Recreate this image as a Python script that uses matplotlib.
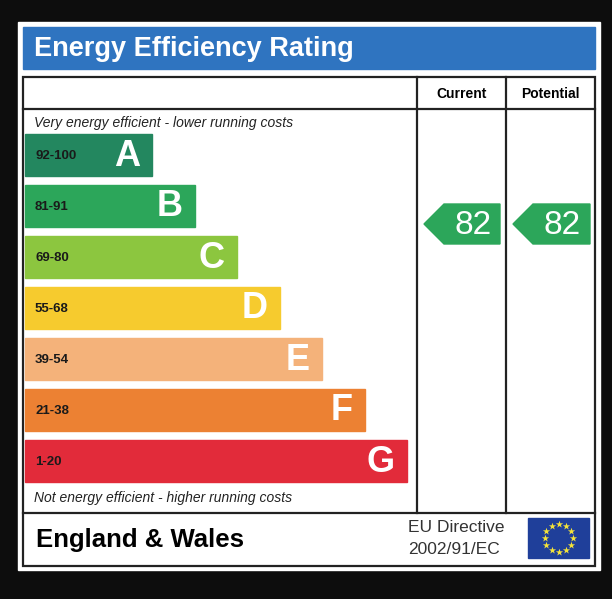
import numpy as np
import matplotlib.pyplot as plt
from matplotlib.patches import Rectangle, Polygon

plt.rcParams['font.family'] = ['Liberation Sans', 'DejaVu Sans']

# band data
band_letters = ['A', 'B', 'C', 'D', 'E', 'F', 'G']
band_ranges = ['92-100', '81-91', '69-80', '55-68', '39-54', '21-38', '1-20']
band_lows = [92, 81, 69, 55, 39, 21, 1]
band_colors = ['#23875f', '#2ca65a', '#8cc63f', '#f6cb2e', '#f4b27a', '#ec8133', '#e22b3a']
current_rating = 82
potential_rating = 82

fig = plt.figure(figsize=(6.12, 5.99), dpi=100)
fig.patch.set_facecolor('#0d0d0d')
ax = fig.add_axes([0, 0, 1, 1])
ax.set_xlim(0, 612)
ax.set_ylim(599, 0)
ax.axis('off')

# white card
ax.add_patch(Rectangle((18, 22), 582, 548, color='white'))
# header
ax.add_patch(Rectangle((23, 27), 572, 42, color='#2f74c0'))
ax.text(34, 49, 'Energy Efficiency Rating', color='white', fontsize=19.5,
        fontweight='bold', va='center', ha='left')

# frame
lw = 1.6
ax.add_patch(Rectangle((23, 77), 572, 489, fill=False, ec='#222222', lw=lw))
ax.plot([23, 595], [109, 109], color='#222222', lw=lw)
ax.plot([23, 595], [513, 513], color='#222222', lw=lw)
ax.plot([417, 417], [77, 513], color='#222222', lw=lw)
ax.plot([506, 506], [77, 513], color='#222222', lw=lw)
ax.text(461.5, 94, 'Current', fontsize=10, fontweight='bold', ha='center', va='center')
ax.text(550.5, 94, 'Potential', fontsize=10, fontweight='bold', ha='center', va='center')

ax.text(34, 123, 'Very energy efficient - lower running costs', fontsize=10,
        style='italic', ha='left', va='center', color='#222222')
ax.text(34, 498, 'Not energy efficient - higher running costs', fontsize=10,
        style='italic', ha='left', va='center', color='#222222')

top0, step, h = 134, 51, 42
for i, (let, rng, col) in enumerate(zip(band_letters, band_ranges, band_colors)):
    y = top0 + i * step
    right = 152 + i * 42.5
    ax.add_patch(Rectangle((25, y), right - 25, h, color=col))
    ax.text(35, y + h / 2 + 1, rng, fontsize=9.5, fontweight='bold', ha='left',
            va='center', color='#1a1a1a')
    ax.text(right - 12, y + h / 2 + 1, let, fontsize=26, fontweight='bold',
            ha='right', va='center', color='white')


def band_index(r):
    for i, lo in enumerate(band_lows):
        if r >= lo:
            return i
    return len(band_lows) - 1


def arrow(x0, x1, rating):
    i = band_index(rating)
    cy = top0 + i * step + h / 2 + 18
    pts = [(x0, cy), (x0 + 20, cy - 20), (x1, cy - 20), (x1, cy + 20), (x0 + 20, cy + 20)]
    ax.add_patch(Polygon(pts, color=band_colors[i]))
    ax.text((x0 + 20 + x1) / 2 + 1, cy + 1, str(rating), fontsize=24,
            color='white', ha='center', va='center')


arrow(424, 500, current_rating)
arrow(513, 590, potential_rating)

# footer
ax.text(36, 540, 'England & Wales', fontsize=18.5, fontweight='bold', ha='left', va='center')
ax.text(408, 528, 'EU Directive', fontsize=12.5, ha='left', va='center', color='#333333')
ax.text(408, 549, '2002/91/EC', fontsize=12.5, ha='left', va='center', color='#333333')
ax.add_patch(Rectangle((528, 518), 61, 40, color='#1f3f9a'))
ang = np.linspace(0, 2 * np.pi, 12, endpoint=False)
ax.scatter(558.5 + 14 * np.cos(ang), 538 + 14 * np.sin(ang), marker='*', s=30,
           color='#f5e33a', lw=0, zorder=5)

fig.savefig('out.png', dpi=100, facecolor=fig.get_facecolor())
